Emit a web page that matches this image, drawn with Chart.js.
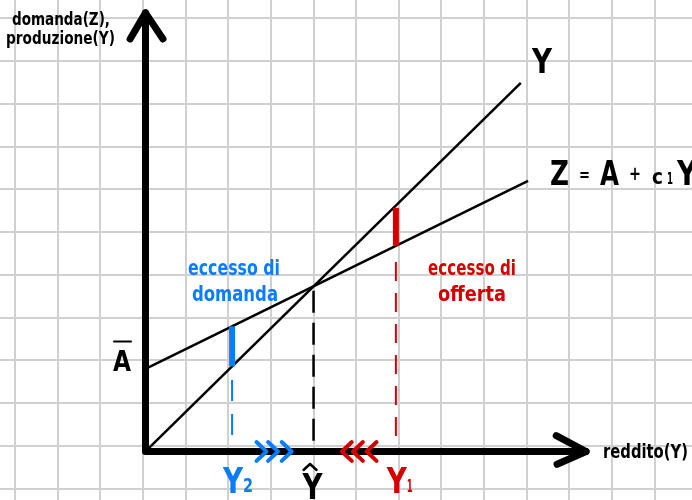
<!DOCTYPE html>
<html>
<head>
<meta charset="utf-8">
<script src="https://cdn.jsdelivr.net/npm/chart.js@4/dist/chart.umd.min.js"></script>
<style>
html,body{margin:0;padding:0;background:#fff;}
#wrap{width:692px;height:500px;position:relative;}
</style>
</head>
<body>
<div id="wrap"><canvas id="c"></canvas></div>
<script>
// ---- data (grid units, origin at the axes corner) ----
const identityU = [0, 8.80];          // Y = Y line
const identityV = [0, 8.62];
const demandU = [0, 8.97];            // Z = A + c1 Y
const demandV = [1.93, 6.33];
const incomeMarks = [2.03, 3.94, 5.87];        // Y2, Ŷ, Y1
const incomeLabels = ['Y', 'Y', 'Y'];
const incomeSubs = ['2', '', '1'];
const excessDemandBar = [1.99, 2.93];          // at Y2
const excessSupplyBar = [4.81, 5.70];          // at Y1
const guideTops = [1.67, 3.76, 4.43];
const guideBottoms = [0.36, 0.25, 0.05];
const rightChevrons = [2.72, 2.99, 3.31];
const leftChevrons = [4.72, 4.98, 5.30];
const axisTips = [10.33, 10.26];               // x-axis tip, y-axis tip
const gridXTicks = [-3,-2,-1,0,1,2,3,4,5,6,7,8,9,10,11,12].map(k => k - 0.06);
const gridYTicks = [-1,0,1,2,3,4,5,6,7,8,9,10].map(k => k + 0.13);

const BLUE = '#0a7cff', RED = '#d40000', BLACK = '#000';
const F = '"Liberation Sans Narrow","DejaVu Sans Condensed","DejaVu Sans",sans-serif';

const pts = (us, vs) => us.map((u, i) => ({x: u, y: vs[i]}));
const ds = (data, color, width, extra = {}) => Object.assign({
  data, borderColor: color, backgroundColor: color, borderWidth: width,
  showLine: true, pointRadius: 0, pointHoverRadius: 0, fill: false, tension: 0,
  borderCapStyle: 'round', borderJoinStyle: 'round'
}, extra);

const CH_W = 0.117, CH_H = 0.22;
const chevron = (c, dir, color) => ds([
  {x: c - dir * CH_W, y: CH_H}, {x: c + dir * CH_W, y: 0}, {x: c - dir * CH_W, y: -CH_H}
], color, 4);

const datasets = [];
rightChevrons.forEach(c => datasets.push(chevron(c, 1, BLUE)));
leftChevrons.forEach(c => datasets.push(chevron(c, -1, RED)));
// axes
datasets.push(ds([{x: 0, y: axisTips[1]}, {x: 0, y: 0}, {x: axisTips[0], y: 0}], BLACK, 7));
// arrow heads
datasets.push(ds([{x: -0.36, y: axisTips[1] - 0.61}, {x: 0, y: axisTips[1]}, {x: 0.41, y: axisTips[1] - 0.61}], BLACK, 7));
datasets.push(ds([{x: axisTips[0] - 0.70, y: 0.37}, {x: axisTips[0], y: 0}, {x: axisTips[0] - 0.68, y: -0.30}], BLACK, 7));
// excess bars
datasets.push(ds(pts([incomeMarks[0], incomeMarks[0]], excessDemandBar), BLUE, 6, {borderCapStyle: 'butt'}));
datasets.push(ds(pts([incomeMarks[2], incomeMarks[2]], excessSupplyBar), RED, 6, {borderCapStyle: 'butt'}));
// main lines
datasets.push(ds(pts(identityU, identityV), BLACK, 2.5, {borderCapStyle: 'butt'}));
datasets.push(ds(pts(demandU, demandV), BLACK, 2.5, {borderCapStyle: 'butt'}));
// dashed guides
const guideColors = [BLUE, BLACK, RED];
const guideDash = [[21, 13], [22, 10], [19, 12]];
incomeMarks.forEach((m, i) => datasets.push(ds(
  pts([m, m], [guideTops[i], guideBottoms[i]]), guideColors[i], i === 1 ? 2.5 : 2,
  {borderDash: guideDash[i], borderCapStyle: 'butt'})));

const labels = {
  id: 'labels',
  afterDraw(chart) {
    const ctx = chart.ctx, xs = chart.scales.x;
    const t = (s, x, y, size, color, maxW, align) => {
      ctx.save();
      ctx.font = 'bold ' + size + 'px ' + F;
      ctx.fillStyle = color;
      ctx.textAlign = align || 'left';
      ctx.textBaseline = 'alphabetic';
      if (maxW) ctx.fillText(s, x, y, maxW); else ctx.fillText(s, x, y);
      ctx.restore();
    };
    const stroke = (p, color, w) => {
      ctx.save(); ctx.strokeStyle = color; ctx.lineWidth = w; ctx.lineCap = 'round'; ctx.lineJoin = 'round';
      ctx.beginPath(); p.forEach((q, i) => i ? ctx.lineTo(q[0], q[1]) : ctx.moveTo(q[0], q[1])); ctx.stroke(); ctx.restore();
    };
    t('domanda(Z),', 12, 25, 18, BLACK, 98);
    t('produzione(Y)', 6, 44, 18, BLACK, 109);
    t('Y', 532, 73, 34, BLACK, 20);
    // equation
    t('Z', 550, 185, 34, BLACK, 19);
    t('=', 579, 181, 18, BLACK, 11);
    t('A', 600, 185, 34, BLACK, 19);
    t('+', 629, 180, 20, BLACK, 12);
    t('c', 652, 184, 22, BLACK, 11);
    t('1', 667, 184, 15, BLACK, 6);
    t('Y', 677, 185, 34, BLACK, 20);
    // A bar
    t('A', 113, 371, 28, BLACK, 18);
    stroke([[114, 341.5], [131, 341.5]], BLACK, 2);
    // excess texts
    t('eccesso di', 188, 275, 22, BLUE, 92);
    t('domanda', 192, 301, 22, BLUE, 86);
    t('eccesso di', 428, 275, 22, RED, 88);
    t('offerta', 438, 301, 22, RED, 68);
    t('reddito(Y)', 603, 458, 19, BLACK, 85);
    // income labels
    const colors = [BLUE, BLACK, RED];
    incomeMarks.forEach((m, i) => {
      const px = xs.getPixelForValue(m);
      const lx = i === 0 ? px - 9 : (i === 1 ? px - 11 : px - 9);
      t(incomeLabels[i], lx, i === 1 ? 499 : 493, 36, colors[i], 20);
      if (incomeSubs[i]) t(incomeSubs[i], lx + 20, 492, i === 0 ? 19 : 17, colors[i], i === 0 ? 10 : 6);
      if (i === 1) stroke([[lx + 1, 470], [lx + 7.5, 464], [lx + 14, 470]], BLACK, 2.5);
    });
  }
};

new Chart(document.getElementById('c'), {
  type: 'scatter',
  data: {datasets},
  options: {
    responsive: true, maintainAspectRatio: false, animation: false,
    events: [],
    layout: {padding: 0},
    plugins: {legend: {display: false}, tooltip: {enabled: false}},
    scales: {
      x: {type: 'linear', min: -3.411, max: 12.813,
          afterBuildTicks: s => { s.ticks = gridXTicks.map(v => ({value: v})); },
          afterFit: s => { s.height = 0; },
          ticks: {display: false}, border: {display: false},
          grid: {color: '#d0d0d0', lineWidth: 2, drawTicks: false}},
      y: {type: 'linear', min: -1.135, max: 10.561,
          afterBuildTicks: s => { s.ticks = gridYTicks.map(v => ({value: v})); },
          afterFit: s => { s.width = 0; },
          ticks: {display: false}, border: {display: false},
          grid: {color: '#d0d0d0', lineWidth: 2, drawTicks: false}}
    }
  },
  plugins: [labels]
});
</script>
</body>
</html>
